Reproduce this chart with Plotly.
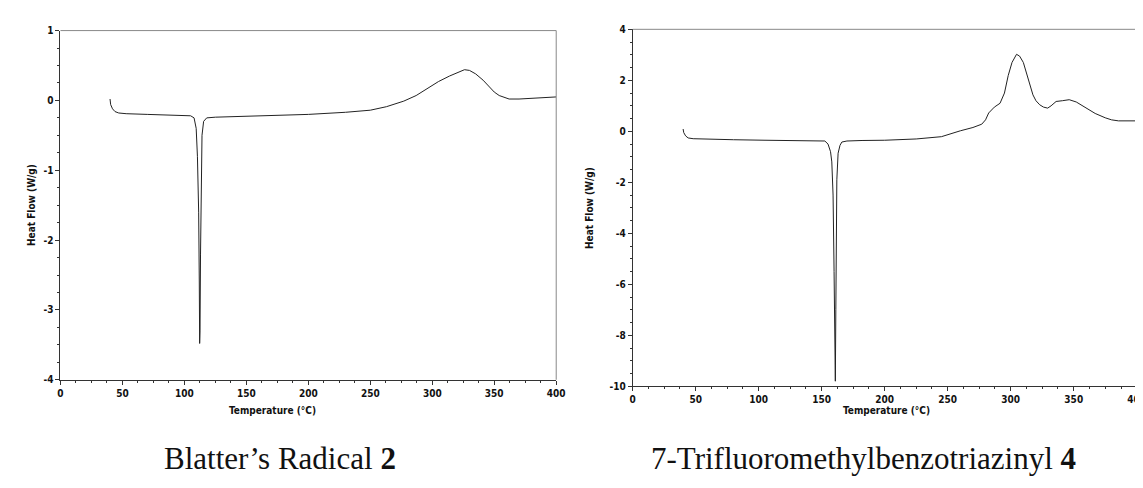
import plotly.graph_objects as go

# ---- Data ----
temp_blatter = [40, 40.5, 42, 44, 47, 53, 70, 90, 100, 105, 107.8, 109.5, 110.5, 111.5, 112.0, 112.3,
                112.6, 113.0, 113.5, 114.2, 115.5, 118, 125, 150, 183, 200, 230, 250, 263, 277, 287,
                295, 305, 314, 320, 326, 330, 335, 341, 346, 350, 354, 358, 362, 370, 385, 400]
hf_blatter = [0.02, -0.06, -0.12, -0.16, -0.18, -0.19, -0.2, -0.21, -0.21, -0.22, -0.25, -0.4, -0.8,
              -1.6, -2.6, -3.48, -3.3, -2.2, -1.2, -0.5, -0.3, -0.25, -0.24, -0.23, -0.21, -0.2,
              -0.17, -0.14, -0.09, -0.01, 0.07, 0.16, 0.27, 0.35, 0.4, 0.44, 0.43, 0.38, 0.29,
              0.19, 0.12, 0.07, 0.04, 0.02, 0.02, 0.03, 0.05]

temp_cf3 = [40, 40.5, 42, 44, 48, 60, 80, 105, 130, 149, 152.5, 155, 157, 158, 159, 159.8, 160.4,
            160.8, 161.2, 161.6, 162, 163, 164.5, 166, 170, 182, 200, 225, 245, 260, 270, 277,
            280, 282.5, 287, 291.5, 295, 298, 301, 304.6, 307, 310, 314, 317.6, 320, 323, 326,
            329.3, 332, 336, 341, 346.4, 352, 359.5, 367, 375, 380, 385.5, 392, 400]
hf_cf3 = [0.09, -0.05, -0.18, -0.26, -0.29, -0.31, -0.33, -0.35, -0.36, -0.36, -0.38, -0.5, -0.8,
          -1.2, -2.5, -5.5, -8.5, -9.8, -7.0, -3.6, -1.9, -0.86, -0.55, -0.42, -0.38, -0.36,
          -0.35, -0.3, -0.21, 0.02, 0.15, 0.28, 0.45, 0.72, 0.95, 1.1, 1.5, 2.19, 2.7, 3.02,
          2.95, 2.7, 2.0, 1.43, 1.2, 1.04, 0.95, 0.91, 1.0, 1.17, 1.2, 1.24, 1.15, 0.91, 0.7,
          0.53, 0.45, 0.41, 0.4, 0.41]

x_ticks = [0, 50, 100, 150, 200, 250, 300, 350, 400]
y_ticks_blatter = [1, 0, -1, -2, -3, -4]
y_ticks_cf3 = [4, 2, 0, -2, -4, -6, -8, -10]

caption_blatter = "Blatter’s Radical <b>2</b>"
caption_cf3 = "7-Trifluoromethylbenzotriazinyl <b>4</b>"
x_title = "Temperature (°C)"
y_title = "Heat Flow (W/g)"

W, H = 1143, 488
SANS = "DejaVu Sans Condensed, Liberation Sans Narrow, Liberation Sans, Arial"
TICK_FONT = dict(family=SANS, size=10, color="#111", weight="bold")
TITLE_FONT = dict(family=SANS, size=10, color="#111", weight="bold")
CAP_FONT = dict(family="Liberation Serif, Times New Roman, serif", size=31, color="#111")

fig = go.Figure()
fig.add_trace(go.Scatter(x=temp_blatter, y=hf_blatter, mode="lines",
                         line=dict(color="#222", width=1), xaxis="x", yaxis="y",
                         showlegend=False, hoverinfo="skip"))
fig.add_trace(go.Scatter(x=temp_cf3, y=hf_cf3, mode="lines",
                         line=dict(color="#222", width=1), xaxis="x2", yaxis="y2",
                         showlegend=False, hoverinfo="skip"))

def px_x(p):
    return p / W

def px_y(p):
    return (H - p) / H

def labels(vals):
    return [str(v) for v in vals]  # plain hyphen-minus like the original

common_x = dict(range=[0, 400], tickvals=x_ticks, ticktext=labels(x_ticks), ticks="outside",
                ticklen=4, tickwidth=1, tickcolor="#333", showline=True, linecolor="#333",
                linewidth=1, showgrid=False, zeroline=False, tickfont=TICK_FONT,
                minor=dict(ticks="outside", ticklen=2, dtick=12.5, tickcolor="#333",
                           showgrid=False))
common_y = dict(ticks="outside", ticklen=4, tickwidth=1, tickcolor="#333", showline=True,
                linecolor="#333", linewidth=1, showgrid=False, zeroline=False,
                tickfont=TICK_FONT)

fig.update_layout(
    width=W, height=H, margin=dict(l=0, r=0, t=0, b=0),
    paper_bgcolor="white", plot_bgcolor="white",
    xaxis=dict(domain=[px_x(50), px_x(551)], anchor="y", **common_x),
    yaxis=dict(domain=[px_y(375), px_y(17)], anchor="x", range=[-4, 1],
               tickvals=y_ticks_blatter, ticktext=labels(y_ticks_blatter),
               minor=dict(ticks="outside", ticklen=2, dtick=0.25, tickcolor="#333",
                          showgrid=False),
               **common_y),
    xaxis2=dict(domain=[px_x(628.3), px_x(1137.7)], anchor="y2", **common_x),
    yaxis2=dict(domain=[px_y(381.7), px_y(15.7)], anchor="x2", range=[-10, 4],
                tickvals=y_ticks_cf3, ticktext=labels(y_ticks_cf3),
                minor=dict(ticks="outside", ticklen=2, dtick=0.5, tickcolor="#333",
                           showgrid=False),
                **common_y),
)

# top and right frame lines (grey)
for xr, yr in (("x", "y"), ("x2", "y2")):
    fig.add_shape(type="line", xref=f"{xr} domain", yref=f"{yr} domain",
                  x0=0, x1=1, y0=1, y1=1, line=dict(color="#888", width=1))
    fig.add_shape(type="line", xref=f"{xr} domain", yref=f"{yr} domain",
                  x0=1, x1=1, y0=0, y1=1, line=dict(color="#888", width=1))

annotations = [
    dict(text=y_title, x=px_x(20), y=px_y(196), textangle=-90, font=TITLE_FONT),
    dict(text=y_title, x=px_x(584), y=px_y(199), textangle=-90, font=TITLE_FONT),
    dict(text=x_title, x=px_x(264), y=px_y(407), font=TITLE_FONT),
    dict(text=x_title, x=px_x(885), y=px_y(407), font=TITLE_FONT),
    dict(text=caption_blatter, x=px_x(272), y=px_y(456), font=CAP_FONT),
    dict(text=caption_cf3, x=px_x(862), y=px_y(456), font=CAP_FONT),
]
for a in annotations:
    fig.add_annotation(xref="paper", yref="paper", showarrow=False,
                       xanchor="center", yanchor="middle", **a)

fig.write_html("out.html")
